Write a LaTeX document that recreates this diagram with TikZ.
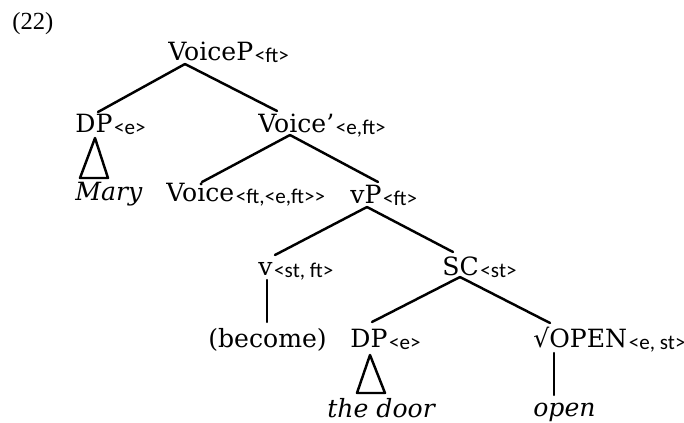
\documentclass[tikz,border=0pt]{standalone}
\usepackage{fontspec}
\setmainfont{Liberation Serif}
\newfontfamily\catfont[Ligatures=TeX]{DejaVu Serif}
\newfontfamily\typfont{Carlito}
\tikzset{
  catlab/.style  = {font=\catfont\fontsize{14.3}{17}\selectfont, inner sep=0pt, anchor=base west},
  typlab/.style  = {font=\typfont\fontsize{12}{14}\selectfont, inner sep=0pt, anchor=base west},
  wordlab/.style = {font=\catfont\fontsize{14.3}{17}\selectfont\itshape, inner sep=0pt, anchor=base west},
  branch/.style  = {line width=1.4pt, line cap=round, line join=round},
}
\newcommand{\catnode}[4]{%
  \node[catlab] (#1) at (#2) {#3};
  \node[typlab] (#1t) at ([shift={(1,2)}]#1.base east) {#4};}

\begin{document}
\begin{tikzpicture}[x=0.02cm, y=-0.02cm]
  \useasboundingbox (0,0) rectangle (684,423);
  \node[anchor=base west, inner sep=0pt, font=\fontsize{14}{17}\selectfont] (exnum) at (12,29) {(22)};
  % categories
  \catnode{vcp}{168,60}{VoiceP}{<ft>}
  \catnode{dpA}{75,132}{DP}{<e>}
  \catnode{vcbar}{258,132}{Voice’}{<e,ft>}
  \catnode{vc}{166,201}{Voice}{<ft,<e,ft>>}
  \catnode{vp}{350,203}{vP}{<ft>}
  \catnode{lv}{258,275}{v}{<st, ft>}
  \catnode{sc}{442,275}{SC}{<st>}
  \catnode{dpB}{350,347}{DP}{<e>}
  \catnode{rt}{533,347}{√OPEN}{<e, st>}
  % terminals
  \node[wordlab] (mary) at (75,200) {Mary};
  \node[catlab] (become) at (208,347) {(become)};
  \node[wordlab] (door) at (327,417) {the door};
  \node[wordlab] (open) at (533,416) {open};
  % branches
  \draw[branch] ([shift={(17,4)}]vcp.base west) -- ([shift={(23,-20)}]dpA.base west);
  \draw[branch] ([shift={(17,4)}]vcp.base west) -- ([shift={(19,-21)}]vcbar.base west);
  \draw[branch] ([shift={(20,6)}]dpA.base west) -- ([shift={(5,46)}]dpA.base west)
    -- ([shift={(33,46)}]dpA.base west) -- cycle;
  \draw[branch] ([shift={(32,3)}]vcbar.base west) -- ([shift={(36,-19)}]vc.base west);
  \draw[branch] ([shift={(32,3)}]vcbar.base west) -- ([shift={(28,-21)}]vp.base west);
  \draw[branch] ([shift={(17,4)}]vp.base west) -- ([shift={(17,-20)}]lv.base west);
  \draw[branch] ([shift={(17,4)}]vp.base west) -- ([shift={(11,-23)}]sc.base west);
  \draw[branch] ([shift={(9,5)}]lv.base west) -- ([shift={(59,-25)}]become.base west);
  \draw[branch] ([shift={(18,2)}]sc.base west) -- ([shift={(22,-25)}]dpB.base west);
  \draw[branch] ([shift={(18,2)}]sc.base west) -- ([shift={(17,-24)}]rt.base west);
  \draw[branch] ([shift={(20,8)}]dpB.base west) -- ([shift={(7,46)}]dpB.base west)
    -- ([shift={(35,46)}]dpB.base west) -- cycle;
  \draw[branch] ([shift={(21,6)}]rt.base west) -- ([shift={(21,-21)}]open.base west);
\end{tikzpicture}
\end{document}
